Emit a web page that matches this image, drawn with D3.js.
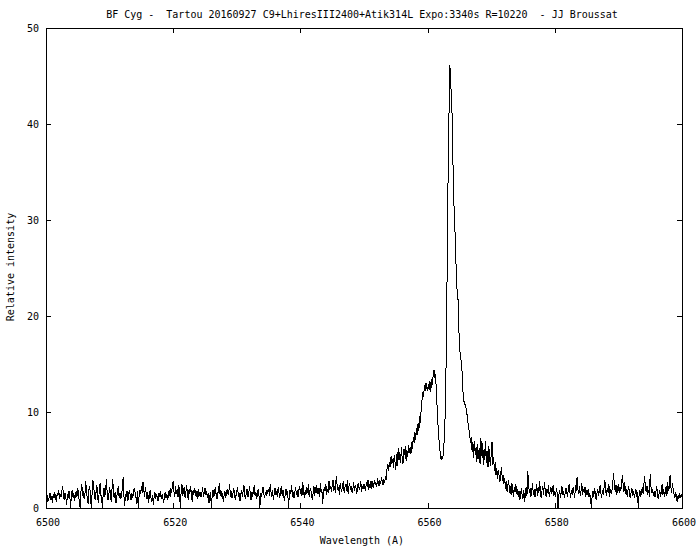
<!DOCTYPE html>
<html>
<head>
<meta charset="utf-8">
<script src="https://cdn.jsdelivr.net/npm/d3@7"></script>
<style>
  html, body { margin: 0; padding: 0; background: #fff; }
  svg { display: block; }
  text { font-family: "DejaVu Sans Mono", monospace; font-size: 10px; fill: #000; }
</style>
</head>
<body>
<svg id="chart" width="700" height="550"></svg>
<script>
// ---- data ----
const titleText = "BF Cyg -  Tartou 20160927 C9+LhiresIII2400+Atik314L Expo:3340s R=10220  - JJ Broussat";
const xLabel = "Wavelength (A)";
const yLabel = "Relative intensity";
const xTicks = [6500, 6520, 6540, 6560, 6580, 6600];
const yTicks = [0, 10, 20, 30, 40, 50];
const wavelengthStart = 6500;
const wavelengthStep = 0.125;
const intensity = [
  // 6500 - 6505
  0.9,0.4,1.3,0.7,1.1,1.6,0.8,1.2,0.5,1.4,1.0,1.7,1.1,0.6,1.5,1.3,1.9,0.9,1.4,1.1,
  1.8,2.3,1.2,0.8,1.6,1.1,0.3,1.4,1.0,1.8,1.2,0.0,1.5,1.9,1.1,1.6,0.7,1.3,1.8,1.2,
  // 6505 - 6510
  2.1,1.4,0.6,0.0,1.7,2.5,1.3,1.8,0.9,1.5,2.8,1.6,1.0,0.4,1.9,2.3,1.2,0.0,1.5,2.9,
  2.2,1.3,0.8,1.7,2.4,1.1,0.5,1.8,2.6,1.4,0.9,0.0,1.6,2.1,1.2,1.7,3.0,1.5,0.8,1.3,
  // 6510 - 6515
  2.2,1.5,0.6,1.9,3.0,1.4,1.0,1.7,0.5,1.2,1.8,2.3,1.1,1.6,0.9,1.4,2.0,3.2,1.3,0.2,
  1.5,1.1,1.8,0.7,1.4,1.9,1.2,0.8,1.6,1.0,1.5,2.1,1.7,1.3,0.4,1.8,0.0,1.2,1.9,1.5,
  // 6515 - 6520
  2.3,1.6,2.7,1.9,1.2,2.2,1.5,0.9,1.7,0.5,1.3,1.9,1.1,0.6,1.4,0.3,1.2,1.7,0.9,1.5,
  1.1,0.7,1.6,1.2,1.8,0.9,1.4,1.1,0.5,1.3,1.7,1.0,1.5,0.8,1.3,1.9,1.2,2.1,1.6,2.4,
  // 6520 - 6525
  2.8,1.7,1.2,2.3,1.5,2.0,1.1,2.4,1.6,0.0,1.8,2.5,1.3,1.9,2.2,1.0,1.7,2.4,1.4,0.8,
  2.0,1.5,2.3,1.2,0.6,1.9,1.4,2.1,1.6,1.1,1.8,0.9,2.0,1.3,1.7,1.1,1.5,2.2,1.2,1.6,
  // 6525 - 6530
  2.1,1.4,1.8,1.0,1.6,0.5,1.2,1.7,0.0,1.3,1.9,1.1,1.6,2.2,1.4,0.9,1.5,1.8,2.6,1.3,
  1.9,1.1,1.6,0.6,1.3,1.8,1.0,1.5,2.0,1.4,1.7,2.5,1.2,1.8,1.0,1.4,2.1,1.6,0.8,1.3,
  // 6530 - 6535
  1.7,2.2,1.1,1.6,0.7,1.4,1.9,1.2,1.8,2.4,1.3,0.9,1.6,2.0,1.1,1.5,2.3,1.4,0.8,1.7,
  1.2,1.9,2.4,1.3,1.7,0.9,1.5,2.0,1.2,0.0,1.6,1.1,1.8,2.2,1.4,1.0,1.7,1.3,1.9,1.5,
  // 6535 - 6540
  2.0,1.3,2.5,1.7,1.1,1.9,0.8,1.5,2.1,1.4,1.8,1.1,2.2,1.6,1.0,1.7,2.3,1.3,1.9,1.2,
  0.7,1.6,2.0,1.4,1.8,0.0,1.3,1.9,1.5,2.4,1.2,1.7,1.0,1.6,2.2,1.4,1.9,1.1,1.8,2.3,
  // 6540 - 6545
  1.5,2.1,1.3,2.7,1.7,1.0,1.9,1.4,2.2,1.6,2.5,1.2,1.8,2.0,1.4,0.8,1.6,2.3,1.3,1.9,
  2.4,1.5,2.1,1.7,1.1,2.6,1.6,2.0,0.4,1.5,2.2,1.8,2.5,1.4,2.0,1.6,2.8,1.9,2.3,1.7,
  // 6545 - 6550
  2.4,2.9,1.8,2.3,1.6,3.3,2.5,1.9,2.2,1.4,2.6,2.0,1.7,2.4,2.8,1.6,2.1,2.5,1.8,2.9,
  1.5,2.2,2.6,1.9,2.3,1.6,2.0,2.7,1.8,2.4,2.1,1.5,2.3,2.6,1.9,2.2,2.8,1.7,2.3,2.0,
  // 6550 - 6555
  2.5,2.1,1.8,2.7,2.2,2.9,1.9,2.4,2.6,2.0,2.8,2.3,2.1,2.9,2.4,2.7,2.2,3.1,2.6,2.3,
  2.9,2.5,3.2,2.7,2.4,3.0,2.6,3.3,2.9,4.1,4.6,3.9,4.8,4.3,5.4,4.6,5.1,4.2,5.5,4.8,
  // 6555 - 6560
  4.0,5.6,4.4,6.2,5.0,5.8,4.7,6.4,5.2,4.6,6.1,5.5,6.5,4.9,6.0,5.3,6.6,5.7,6.3,5.6,
  6.9,6.2,7.4,6.8,7.9,7.1,8.3,7.6,8.8,8.0,9.6,8.9,10.4,11.3,12.1,11.6,12.8,12.2,13.0,12.5,
  // 6560 - 6565
  12.2,12.9,12.3,13.2,12.1,13.4,12.8,13.9,14.4,13.5,14.0,12.2,10.5,8.8,7.5,6.4,
  5.6,5.0,5.4,5.1,6.0,7.2,9.5,13.5,20.0,28.3,36.5,41.5,46.1,45.0,42.0,40.8,
  35.5,32.0,29.5,28.0,24.5,22.8,22.5,19.5,
  // 6565 - 6570
  17.0,16.0,15.4,14.8,12.8,11.5,11.0,10.8,10.5,10.2,9.4,8.8,8.2,7.5,6.8,7.4,
  5.8,6.9,5.2,7.0,5.5,6.4,4.8,6.7,5.1,6.2,4.6,7.3,5.4,6.8,4.5,6.1,
  5.0,7.0,4.7,5.9,4.3,6.5,5.2,4.4,
  // 6570 - 6575
  5.6,6.9,4.5,5.3,3.9,4.8,3.4,4.2,3.0,4.0,3.3,2.7,3.6,4.3,2.8,3.4,
  2.5,3.1,2.0,2.8,1.7,2.4,2.9,1.6,2.3,1.4,2.6,1.9,1.2,2.2,1.7,2.5,
  1.5,2.0,1.1,1.8,0.8,1.4,2.1,1.3,
  // 6575 - 6580
  1.0,1.9,0.6,1.5,2.2,1.3,3.8,2.4,1.6,2.1,1.2,1.8,2.6,1.4,2.0,1.1,1.7,2.5,1.3,2.2,
  1.6,2.8,1.5,1.0,1.9,2.3,1.4,2.7,1.8,1.2,2.0,1.6,2.4,1.1,1.7,2.2,1.5,1.9,2.4,1.3,
  // 6580 - 6585
  1.8,1.2,2.1,1.5,0.0,1.3,1.9,1.1,1.6,2.3,1.4,1.8,1.0,1.5,2.1,1.7,1.2,2.0,2.5,1.6,
  1.1,1.9,1.4,2.2,1.7,1.0,2.4,1.8,3.2,2.0,1.5,2.3,1.3,1.8,2.6,1.4,2.0,1.6,2.2,1.2,
  // 6585 - 6590
  1.9,1.4,2.0,1.1,1.5,0.9,0.0,1.3,1.8,1.2,2.1,1.6,0.8,1.5,2.0,1.3,1.7,2.4,1.5,1.1,
  1.9,1.4,2.2,2.9,1.8,1.3,2.1,1.6,2.5,1.2,2.0,1.5,1.9,2.7,3.6,2.2,1.7,2.4,1.4,2.0,
  // 6590 - 6595
  2.5,1.6,2.2,1.8,2.6,3.4,2.4,1.7,2.7,1.5,2.0,1.2,1.8,2.3,1.4,1.0,1.6,2.1,1.3,1.8,
  1.1,1.5,2.0,1.2,1.7,0.0,1.4,1.9,1.1,1.6,2.2,1.5,2.4,3.3,2.1,1.7,2.3,1.4,1.9,1.2,
  // 6595 - 6600
  3.5,2.2,1.6,2.0,1.3,1.8,1.1,1.5,2.3,1.7,0.9,1.4,1.9,1.2,1.7,2.5,1.4,2.0,1.1,1.6,
  2.3,1.3,2.7,1.8,2.1,3.4,2.2,1.6,2.6,1.9,1.4,1.0,1.7,1.2,0.6,1.3,0.9,1.6,1.1,1.4,
  1.2
];

// ---- layout ----
const mLeft = 46, mRight = 682, mTop = 28, mBottom = 508;
const svg = d3.select("#chart");

const x = d3.scaleLinear().domain([6500, 6600]).range([mLeft, mRight]);
const y = d3.scaleLinear().domain([0, 50]).range([mBottom, mTop]);

const points = intensity.map((v, i) => [wavelengthStart + i * wavelengthStep, v]);

// frame
svg.append("rect")
  .attr("x", mLeft + 0.5).attr("y", mTop + 0.5)
  .attr("width", mRight - mLeft).attr("height", mBottom - mTop)
  .attr("fill", "none").attr("stroke", "#000").attr("stroke-width", 1)
  .attr("shape-rendering", "crispEdges");

// axes (ticks inward, mirrored)
const tickLen = 5;
const gx = svg.append("g").attr("shape-rendering", "crispEdges");
xTicks.forEach(t => {
  const px = Math.round(x(t)) + 0.5;
  gx.append("line").attr("x1", px).attr("x2", px).attr("y1", mBottom).attr("y2", mBottom - tickLen).attr("stroke", "#000");
  gx.append("line").attr("x1", px).attr("x2", px).attr("y1", mTop).attr("y2", mTop + tickLen).attr("stroke", "#000");
  gx.append("text").attr("x", x(t) + 2).attr("y", 526).attr("text-anchor", "middle").text(t);
});
const gy = svg.append("g").attr("shape-rendering", "crispEdges");
yTicks.forEach(t => {
  const py = Math.round(y(t)) + 0.5;
  gy.append("line").attr("y1", py).attr("y2", py).attr("x1", mLeft).attr("x2", mLeft + tickLen).attr("stroke", "#000");
  gy.append("line").attr("y1", py).attr("y2", py).attr("x1", mRight).attr("x2", mRight - tickLen).attr("stroke", "#000");
  gy.append("text").attr("x", 39).attr("y", y(t) + 3.5).attr("text-anchor", "end").text(t);
});

// spectrum
const line = d3.line().x(d => x(d[0])).y(d => y(d[1]));
svg.append("path")
  .datum(points)
  .attr("d", line)
  .attr("fill", "none")
  .attr("stroke", "#000")
  .attr("stroke-width", 1)
  .attr("shape-rendering", "crispEdges");

// labels
svg.append("text").attr("x", 362).attr("y", 18).attr("text-anchor", "middle")
  .attr("xml:space", "preserve").style("white-space", "pre").text(titleText);
svg.append("text").attr("x", 362).attr("y", 544).attr("text-anchor", "middle").text(xLabel);
svg.append("text").attr("transform", "translate(14,267) rotate(-90)").attr("text-anchor", "middle").text(yLabel);
</script>
</body>
</html>
